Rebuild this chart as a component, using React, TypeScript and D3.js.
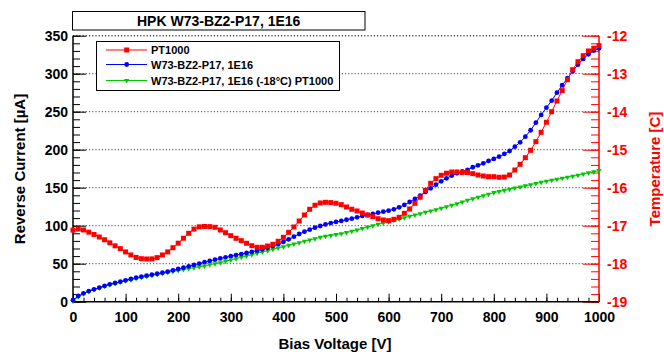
import React, { useEffect, useRef } from 'react';
import * as d3 from 'd3';

// bias voltage [V]
const VOLTAGE = [
  0, 10, 20, 30, 40, 50, 60, 70, 80, 90,
  100, 110, 120, 130, 140, 150, 160, 170, 180, 190,
  200, 210, 220, 230, 240, 250, 260, 270, 280, 290,
  300, 310, 320, 330, 340, 350, 360, 370, 380, 390,
  400, 410, 420, 430, 440, 450, 460, 470, 480, 490,
  500, 510, 520, 530, 540, 550, 560, 570, 580, 590,
  600, 610, 620, 630, 640, 650, 660, 670, 680, 690,
  700, 710, 720, 730, 740, 750, 760, 770, 780, 790,
  800, 810, 820, 830, 840, 850, 860, 870, 880, 890,
  900, 910, 920, 930, 940, 950, 960, 970, 980, 990,
  1000,
];

// PT1000 temperature [C] (right axis)
const TEMP_PT1000 = [
  -17.116, -17.086, -17.112, -17.17, -17.23, -17.298, -17.37, -17.45, -17.53, -17.604,
  -17.69, -17.77, -17.836, -17.868, -17.876, -17.874, -17.84, -17.77, -17.69, -17.58,
  -17.46, -17.33, -17.2, -17.09, -17.03, -17.02, -17.024, -17.042, -17.112, -17.184,
  -17.262, -17.332, -17.394, -17.462, -17.526, -17.568, -17.568, -17.534, -17.49, -17.41,
  -17.306, -17.174, -17.034, -16.876, -16.718, -16.568, -16.462, -16.402, -16.384, -16.392,
  -16.41, -16.446, -16.508, -16.568, -16.612, -16.666, -16.718, -16.762, -16.816, -16.85,
  -16.868, -16.832, -16.78, -16.674, -16.56, -16.41, -16.252, -16.068, -15.884, -15.762,
  -15.674, -15.62, -15.586, -15.586, -15.6, -15.6, -15.63, -15.666, -15.692, -15.71,
  -15.71, -15.726, -15.72, -15.666, -15.534, -15.384, -15.21, -15.016, -14.788, -14.542,
  -14.278, -14.0, -13.718, -13.446, -13.156, -12.894, -12.684, -12.526, -12.402, -12.33,
  -12.262,
];

// W73-BZ2-P17, 1E16 reverse current [uA]
const CURRENT_1E16 = [
  2, 7.5, 11, 14, 16.3, 18.5, 20.7, 22.9, 24.6, 26.3,
  28.1, 29.9, 31.6, 32.9, 34.2, 35.5, 36.8, 38.2, 39.5, 41.3,
  43, 44.8, 46.6, 48.4, 50.2, 52, 53.7, 55.3, 56.9, 58.4,
  59.9, 61.3, 62.7, 64.1, 65.6, 67.2, 69, 71, 73.2, 75.7,
  78.6, 82.1, 85.5, 89.1, 92.1, 94.8, 97.4, 99.6, 101.7, 103.4,
  105, 106.3, 107.8, 109.3, 111, 112.8, 114.1, 115.4, 117.1, 118.4,
  119.8, 121.6, 124.2, 127.3, 131.2, 135.2, 139.5, 144.4, 149.2, 154,
  158.4, 162.4, 165.8, 169, 171.3, 173.5, 176.9, 179.5, 182.1, 185.2,
  187.8, 190.8, 194.4, 198.3, 204, 209.7, 217.1, 225.6, 235.6, 245.7,
  255.3, 264.5, 275, 284.8, 294, 303.2, 311.9, 319.4, 325.6, 330.3,
  333.5,
];

// W73-BZ2-P17, 1E16 scaled to -18C (PT1000) [uA]
const CURRENT_M18 = [
  0.5, 6.5, 10.5, 13.5, 16, 18.2, 20.3, 22.3, 24, 25.8,
  27.5, 29, 30.5, 32, 33.3, 34.6, 35.9, 37.2, 38.5, 39.8,
  41.1, 42.3, 43.5, 44.7, 45.9, 47, 48.7, 50, 51.3, 53.2,
  54.9, 56.6, 58.4, 60.1, 61.9, 63.7, 65.4, 67.1, 69, 70.7,
  72.4, 74.2, 75.9, 77.6, 79.5, 81.2, 82.9, 84.7, 86.1, 87.2,
  88.3, 89.5, 91, 92.6, 94.4, 96.3, 98.2, 100, 101.9, 103.6,
  105.3, 107.1, 108.8, 110.5, 112.4, 114.1, 115.8, 117.7, 119.4, 121.1,
  123, 125, 127, 129, 131.2, 133.5, 135.5, 137.5, 139.5, 141.5,
  143.5, 145, 146.5, 148, 149.5, 151, 152.5, 154, 155.5, 157,
  158.5, 159.8, 161.1, 162.4, 163.7, 165, 166.5, 168, 169.5, 171,
  172.5,
];

const X_TICKS = [0, 100, 200, 300, 400, 500, 600, 700, 800, 900, 1000];
const Y_TICKS = [0, 50, 100, 150, 200, 250, 300, 350];
const T_TICKS = [-19, -18, -17, -16, -15, -14, -13, -12];

const TITLE = 'HPK W73-BZ2-P17, 1E16';
const LEGEND = ['PT1000', 'W73-BZ2-P17, 1E16', 'W73-BZ2-P17, 1E16 (-18°C) PT1000'];

const RED = '#ff0000';
const BLUE = '#0000ff';
const GREEN = '#00c800';
const FONT = "'Liberation Sans', Arial, sans-serif";

const App = () => {
  const svgRef = useRef(null);

  useEffect(() => {
    const W = 664, H = 352;
    const left = 73, right = 599, top = 35.7, bottom = 301.7;
    const fmt = d3.format('d');

    const svg = d3.select(svgRef.current).html('')
      .attr('width', W).attr('height', H)
      .attr('viewBox', `0 0 ${W} ${H}`);

    svg.append('rect').attr('width', W).attr('height', H).attr('fill', '#fff');

    const x = d3.scaleLinear().domain([0, 1000]).range([left, right]);
    const y = d3.scaleLinear().domain([0, 350]).range([bottom, top]);
    const yT = d3.scaleLinear().domain([-19, -12]).range([bottom, top]);

    // dotted horizontal grid
    svg.append('g').selectAll('line')
      .data(Y_TICKS.filter(d => d > 0))
      .enter().append('line')
      .attr('x1', left).attr('x2', right)
      .attr('y1', d => y(d)).attr('y2', d => y(d))
      .attr('stroke', '#444')
      .attr('stroke-width', d => d === 350 ? 1.6 : 1)
      .attr('stroke-dasharray', '1.2,2');

    const styleAxis = (g, color) => {
      g.select('.domain').remove();
      g.selectAll('line').attr('stroke', color).attr('stroke-width', 1);
      g.selectAll('text')
        .attr('fill', color)
        .attr('font-family', FONT)
        .attr('font-size', 14)
        .attr('font-weight', 'bold');
    };

    // left axis
    svg.append('g').attr('transform', `translate(${left},0)`)
      .call(d3.axisLeft(y).tickValues(d3.range(0, 351, 10)).tickSize(-7).tickFormat(() => ''))
      .call(g => styleAxis(g, '#000'));
    svg.append('g').attr('transform', `translate(${left},0)`)
      .call(d3.axisLeft(y).tickValues(Y_TICKS).tickSize(-13).tickPadding(5).tickFormat(fmt))
      .call(g => styleAxis(g, '#000'));

    // bottom axis
    svg.append('g').attr('transform', `translate(0,${bottom})`)
      .call(d3.axisBottom(x).tickValues(d3.range(0, 1001, 20)).tickSize(-4).tickFormat(() => ''))
      .call(g => styleAxis(g, '#000'));
    svg.append('g').attr('transform', `translate(0,${bottom})`)
      .call(d3.axisBottom(x).tickValues(X_TICKS).tickSize(-8).tickPadding(10).tickFormat(fmt))
      .call(g => styleAxis(g, '#000'));

    // right (temperature) axis
    svg.append('g').attr('transform', `translate(${right},0)`)
      .call(d3.axisRight(yT).tickValues(d3.range(-19, -11.99, 0.2)).tickSize(-8).tickFormat(() => ''))
      .call(g => styleAxis(g, RED));
    svg.append('g').attr('transform', `translate(${right},0)`)
      .call(d3.axisRight(yT).tickValues(T_TICKS).tickSize(-16).tickPadding(8).tickFormat(d => String(d)))
      .call(g => styleAxis(g, RED));

    // frame
    svg.append('line').attr('x1', left).attr('x2', left).attr('y1', top).attr('y2', bottom)
      .attr('stroke', '#000').attr('stroke-width', 1.5);
    svg.append('line').attr('x1', left).attr('x2', right).attr('y1', bottom).attr('y2', bottom)
      .attr('stroke', '#000').attr('stroke-width', 1.5);
    svg.append('line').attr('x1', right).attr('x2', right).attr('y1', top).attr('y2', bottom)
      .attr('stroke', RED).attr('stroke-width', 1.5);

    // series
    const series = [
      { name: 'green', vals: CURRENT_M18, sc: y, color: GREEN, marker: 'tri' },
      { name: 'blue', vals: CURRENT_1E16, sc: y, color: BLUE, marker: 'circle' },
      { name: 'red', vals: TEMP_PT1000, sc: yT, color: RED, marker: 'square' },
    ];

    const drawMarker = (g, kind, color, cx, cy) => {
      if (kind === 'square') {
        g.append('rect').attr('x', cx - 2.5).attr('y', cy - 2.5)
          .attr('width', 5).attr('height', 5).attr('fill', color);
      } else if (kind === 'circle') {
        g.append('circle').attr('cx', cx).attr('cy', cy).attr('r', 2.4).attr('fill', color);
      } else {
        g.append('path')
          .attr('d', d3.symbol(d3.symbolTriangle, 12)())
          .attr('transform', `translate(${cx},${cy}) rotate(180)`)
          .attr('fill', color);
      }
    };

    series.forEach(s => {
      const pts = VOLTAGE.map((v, i) => [v, s.vals[i]]);
      const line = d3.line().x(d => x(d[0])).y(d => s.sc(d[1]));
      const g = svg.append('g');
      g.append('path').attr('d', line(pts)).attr('fill', 'none')
        .attr('stroke', s.color).attr('stroke-width', 1);
      pts.forEach(d => drawMarker(g, s.marker, s.color, x(d[0]), s.sc(d[1])));
    });

    // title box
    svg.append('rect').attr('x', 72.5).attr('y', 11.5).attr('width', 292.5).attr('height', 18.5)
      .attr('fill', '#fff').attr('stroke', '#000').attr('stroke-width', 1);
    svg.append('text').attr('x', 218.7).attr('y', 26)
      .attr('text-anchor', 'middle')
      .attr('font-family', FONT).attr('font-size', 14).attr('font-weight', 'bold')
      .text(TITLE);

    // legend
    const lg = svg.append('g');
    lg.append('rect').attr('x', 96.5).attr('y', 41.5).attr('width', 243).attr('height', 49)
      .attr('fill', '#fff').attr('stroke', '#000').attr('stroke-width', 1);
    const legendItems = [
      { label: LEGEND[0], color: RED, marker: 'square', cy: 50 },
      { label: LEGEND[1], color: BLUE, marker: 'circle', cy: 64.5 },
      { label: LEGEND[2], color: GREEN, marker: 'tri', cy: 80.5 },
    ];
    legendItems.forEach(it => {
      lg.append('line').attr('x1', 106).attr('x2', 147).attr('y1', it.cy).attr('y2', it.cy)
        .attr('stroke', it.color).attr('stroke-width', 1);
      drawMarker(lg, it.marker, it.color, 126.7, it.cy);
      lg.append('text').attr('x', 151).attr('y', it.cy + 4)
        .attr('font-family', FONT).attr('font-size', 11).attr('font-weight', 'bold')
        .text(it.label);
    });

    // axis titles
    svg.append('text').attr('x', 335).attr('y', 349)
      .attr('text-anchor', 'middle')
      .attr('font-family', FONT).attr('font-size', 15).attr('font-weight', 'bold')
      .text('Bias Voltage [V]');
    svg.append('text')
      .attr('transform', 'translate(25,169) rotate(-90)')
      .attr('text-anchor', 'middle')
      .attr('font-family', FONT).attr('font-size', 15).attr('font-weight', 'bold')
      .text('Reverse Current [µA]');
    svg.append('text')
      .attr('transform', 'translate(660,169) rotate(-90)')
      .attr('text-anchor', 'middle')
      .attr('fill', RED)
      .attr('font-family', FONT).attr('font-size', 15).attr('font-weight', 'bold')
      .text('Temperature [C]');
  }, []);

  return (
    <svg ref={svgRef} style={{ position: 'absolute', left: 0, top: 0, display: 'block' }}></svg>
  );
};

export default App;
